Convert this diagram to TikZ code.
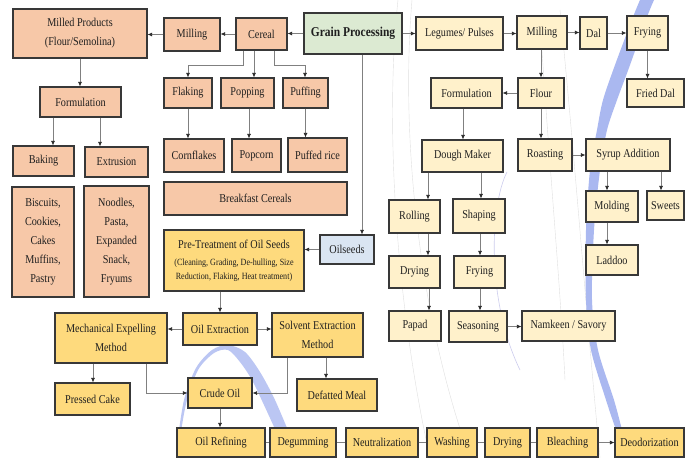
\documentclass[tikz,border=0pt]{standalone}
\usepackage{fontspec}
\setmainfont[FakeStretch=0.85]{Liberation Serif}
\usetikzlibrary{arrows.meta,calc}

\definecolor{peachfill}{RGB}{247,200,168}
\definecolor{goldfill}{RGB}{254,218,125}
\definecolor{creamfill}{RGB}{255,241,203}
\definecolor{greenfill}{RGB}{220,234,210}
\definecolor{bluefill}{RGB}{218,229,242}
\definecolor{swoosh}{RGB}{170,184,240}
\definecolor{lavender}{RGB}{205,205,238}

% \placebox{name}{x1}{y1}{x2}{y2}{style}{text}
\newcommand\placebox[7]{%
  \node[box,#6,minimum width={#4pt-#2pt},minimum height={#5pt-#3pt}]
    (#1) at ({(#2+#4)/2},{(#3+#5)/2}) {#7};}

\begin{document}
\begin{tikzpicture}[x=1pt,y=-1pt,
  box/.style={draw=black!78, line width=1.1pt, inner sep=1pt, align=center,
    text=black!88, font=\fontsize{12}{19}\selectfont},
  pc/.style={fill=peachfill},
  oc/.style={fill=goldfill},
  lc/.style={fill=creamfill},
  gp/.style={fill=greenfill},
  bc/.style={fill=bluefill},
  conn/.style={draw=black!50, line width=0.7pt},
  arr/.style={conn, -{Latex[length=4.5pt,width=4pt,color=black!85]}},
  faint/.style={draw=black!12, line width=0.4pt}]

\fill[white] (0,0) rectangle (685,458);
\useasboundingbox (0,0) rectangle (685,458);

% background decoration: faint curves and blue swooshes
\draw[faint] (398,0) .. controls (385,120) and (395,300) .. (430,458);
\draw[faint] (412,0) .. controls (400,140) and (420,320) .. (470,458);
\draw[faint] (540,20) .. controls (548,150) and (560,280) .. (565,380);
\draw[faint] (560,10) .. controls (575,160) and (585,300) .. (600,458);
\draw[lavender, line width=0.6pt] (507,172) .. controls (490,205) and (486,300) .. (520,370);
\fill[swoosh] plot[smooth] coordinates {(640,0) (633,17) (615,65) (603,100) (597,130)
    (590,170) (586,230) (586,300) (591,350) (606,400) (616,430)}
  -- plot[smooth] coordinates {(622,430) (614,400) (598,350) (592,300) (594,230)
    (600,170) (607,130) (617,100) (630,65) (647,17) (654,0)} -- cycle;
\fill[swoosh!80] plot[smooth] coordinates {(177,445) (184,400) (196,368) (212,350)
    (228,345) (245,352) (260,372) (275,400) (292,440)}
  -- plot[smooth] coordinates {(280,440) (264,405) (252,380) (240,362) (228,350)
    (214,353) (198,370) (186,404) (179,445)} -- cycle;

% ---------- cereal branch ----------
\placebox{milled}{13}{9}{147}{58}{pc}{Milled Products\\(Flour/Semolina)}
\placebox{millc}{164}{18}{220}{51}{pc}{Milling}
\placebox{cereal}{236}{18}{287}{50}{pc}{Cereal}
\placebox{grain}{304}{13}{402}{54}{gp}{\fontsize{13.5}{16}\selectfont\bfseries Grain Processing}
\placebox{formc}{40}{87}{121}{117}{pc}{Formulation}
\placebox{baking}{13}{146}{74}{176}{pc}{Baking}
\placebox{extrusion}{85}{147}{148}{177}{pc}{Extrusion}
\placebox{bakery}{12}{187}{74}{297}{pc}{Biscuits,\\Cookies,\\Cakes\\Muffins,\\Pastry}
\placebox{extruded}{84}{186}{149}{297}{pc}{Noodles,\\Pasta,\\Expanded\\Snack,\\Fryums}
\placebox{flaking}{164}{78}{212}{108}{pc}{Flaking}
\placebox{popping}{221}{78}{274}{108}{pc}{Popping}
\placebox{puffing}{283}{78}{328}{108}{pc}{Puffing}
\placebox{cornflakes}{164}{139}{224}{172}{pc}{Cornflakes}
\placebox{popcorn}{232}{139}{281}{172}{pc}{Popcorn}
\placebox{puffedrice}{288}{138}{347}{172}{pc}{Puffed rice}
\placebox{breakfast}{164}{182}{347}{215}{pc}{Breakfast Cereals}

% ---------- oilseed branch ----------
\placebox{pretreat}{164}{230}{304}{291}{oc,font=\fontsize{9.5}{14}\selectfont}{%
  {\fontsize{12}{14}\selectfont Pre-Treatment of Oil Seeds}\\[3pt]
  (Cleaning, Grading, De-hulling, Size\\Reduction, Flaking, Heat treatment)}
\placebox{oilseeds}{320}{235}{374}{264}{bc}{Oilseeds}
\placebox{oilext}{183}{313}{257}{345}{oc}{Oil Extraction}
\placebox{mech}{55}{313}{167}{363}{oc}{Mechanical Expelling\\Method}
\placebox{solvent}{272}{313}{363}{357}{oc}{Solvent Extraction\\Method}
\placebox{pressed}{55}{383}{130}{415}{oc}{Pressed Cake}
\placebox{crude}{188}{378}{252}{408}{oc}{Crude Oil}
\placebox{defatted}{297}{379}{377}{411}{oc}{Defatted Meal}
\placebox{refining}{177}{428}{265}{457}{oc}{Oil Refining}
\placebox{degumming}{270}{428}{336}{457}{oc}{Degumming}
\placebox{neutral}{346}{428}{418}{457}{oc}{Neutralization}
\placebox{washing}{427}{428}{477}{457}{oc}{Washing}
\placebox{dryingo}{485}{428}{530}{457}{oc}{Drying}
\placebox{bleaching}{537}{428}{598}{457}{oc}{Bleaching}
\placebox{deodor}{615}{428}{684}{457}{oc}{Deodorization}

% ---------- legume branch ----------
\placebox{legumes}{416}{17}{503}{50}{lc}{Legumes/ Pulses}
\placebox{millingl}{517}{16}{567}{49}{lc}{Milling}
\placebox{dal}{580}{17}{607}{49}{lc}{Dal}
\placebox{fryingd}{627}{16}{668}{50}{lc}{Frying}
\placebox{frieddal}{627}{79}{684}{107}{lc}{Fried Dal}
\placebox{forml}{431}{78}{502}{108}{lc}{Formulation}
\placebox{flour}{518}{78}{564}{108}{lc}{Flour}
\placebox{dough}{422}{140}{503}{172}{lc}{Dough Maker}
\placebox{roasting}{518}{139}{572}{171}{lc}{Roasting}
\placebox{syrup}{586}{139}{670}{171}{lc}{Syrup Addition}
\placebox{molding}{586}{191}{638}{222}{lc}{Molding}
\placebox{sweets}{647}{191}{684}{220}{lc}{Sweets}
\placebox{laddoo}{586}{245}{638}{275}{lc}{Laddoo}
\placebox{rolling}{389}{200}{440}{233}{lc}{Rolling}
\placebox{shaping}{453}{199}{505}{233}{lc}{Shaping}
\placebox{dryingl}{389}{256}{440}{288}{lc}{Drying}
\placebox{fryingl}{454}{256}{505}{288}{lc}{Frying}
\placebox{papad}{389}{311}{441}{341}{lc}{Papad}
\placebox{seasoning}{449}{311}{507}{342}{lc}{Seasoning}
\placebox{namkeen}{522}{311}{615}{341}{lc}{Namkeen / Savory}

% ---------- connectors: cereal ----------
\draw[arr] (grain.west) -- (grain.west -| cereal.east);
\draw[arr] (cereal.west) -- (cereal.west -| millc.east);
\draw[arr] (millc.west) -- (millc.west -| milled.east);
\draw[arr] (milled.south) -- (milled.south |- formc.north);
\draw[arr] (formc.south -| 53,0) -- (baking.north -| 53,0);
\draw[arr] (formc.south -| 100,0) -- (extrusion.north -| 100,0);
\draw[arr] (cereal.south -| 243,0) |- (188,65) -- (flaking.north -| 188,0);
\draw[arr] (cereal.south -| 254,0) -- (popping.north -| 254,0);
\draw[arr] (cereal.south -| 274,0) |- (305,65) -- (puffing.north -| 305,0);
\draw[arr] (flaking.south) -- (flaking.south |- cornflakes.north);
\draw[arr] (popping.south -| 249,0) -- (popcorn.north -| 249,0);
\draw[arr] (puffing.south) -- (puffing.south |- puffedrice.north);

% ---------- connectors: oilseeds ----------
\draw[arr] (grain.south -| 362,0) -- (oilseeds.north -| 362,0);
\draw[arr] (oilseeds.west) -- (oilseeds.west -| pretreat.east);
\draw[arr] (pretreat.south -| 220,0) -- (oilext.north -| 220,0);
\draw[arr] (oilext.west) -- (oilext.west -| mech.east);
\draw[arr] (oilext.east) -- (oilext.east -| solvent.west);
\draw[arr] (mech.south -| 93,0) -- (pressed.north -| 93,0);
\draw[arr] (mech.south -| 146,0) |- (crude.west);
\draw[arr] (solvent.south -| 287,0) |- (crude.east);
\draw[arr] (solvent.south -| 326,0) -- (defatted.north -| 326,0);
\draw[arr] (crude.south) -- (crude.south |- refining.north);
\draw[conn] (refining.east) -- (refining.east -| degumming.west);
\draw[conn] (degumming.east) -- (degumming.east -| neutral.west);
\draw[conn] (neutral.east) -- (neutral.east -| washing.west);
\draw[conn] (washing.east) -- (washing.east -| dryingo.west);
\draw[conn] (dryingo.east) -- (dryingo.east -| bleaching.west);
\draw[arr] (bleaching.east) -- (bleaching.east -| deodor.west);

% ---------- connectors: legumes ----------
\draw[arr] (grain.east) -- (grain.east -| legumes.west);
\draw[arr] (legumes.east) -- (legumes.east -| millingl.west);
\draw[arr] (millingl.east) -- (millingl.east -| dal.west);
\draw[arr] (dal.east) -- (dal.east -| fryingd.west);
\draw[arr] (fryingd.south) -- (fryingd.south |- frieddal.north);
\draw[arr] (millingl.south -| 541,0) -- (flour.north -| 541,0);
\draw[arr] (flour.west) -- (flour.west -| forml.east);
\draw[arr] (forml.south -| 463,0) -- (dough.north -| 463,0);
\draw[arr] (flour.south -| 541,0) -- (roasting.north -| 541,0);
\draw[arr] (roasting.east) -- (roasting.east -| syrup.west);
\draw[arr] (syrup.south -| 607,0) -- (molding.north -| 607,0);
\draw[arr] (syrup.south -| 661,0) -- (sweets.north -| 661,0);
\draw[arr] (molding.south -| 607,0) -- (laddoo.north -| 607,0);
\draw[arr] (dough.south -| 428,0) -- (rolling.north -| 428,0);
\draw[arr] (dough.south -| 481,0) -- (shaping.north -| 481,0);
\draw[arr] (rolling.south -| 428,0) -- (dryingl.north -| 428,0);
\draw[arr] (shaping.south -| 480,0) -- (fryingl.north -| 480,0);
\draw[arr] (dryingl.south -| 429,0) -- (papad.north -| 429,0);
\draw[arr] (fryingl.south -| 480,0) -- (seasoning.north -| 480,0);
\draw[arr] (seasoning.east) -- (seasoning.east -| namkeen.west);
\end{tikzpicture}
\end{document}
